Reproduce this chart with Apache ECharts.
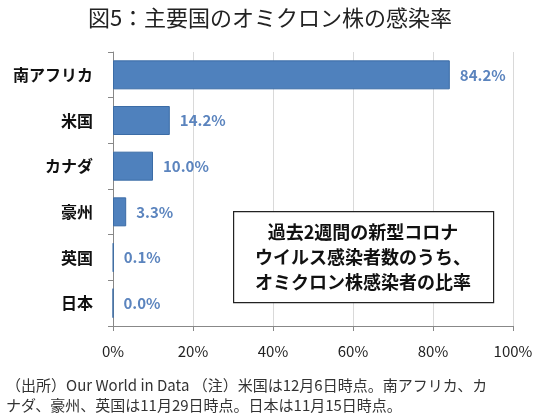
<!DOCTYPE html>
<html>
<head>
<meta charset="utf-8">
<script src="https://cdn.jsdelivr.net/npm/echarts@6/dist/echarts.min.js"></script>
<style>
html, body { margin: 0; padding: 0; background: #fff; }
#chart { width: 540px; height: 418px; }
</style>
</head>
<body>
<div id="chart"></div>
<script>
var countries = ['南アフリカ', '米国', 'カナダ', '豪州', '英国', '日本'];
var shares = [84.2, 14.2, 10.0, 3.3, 0.1, 0.0];
var xTicks = [0, 20, 40, 60, 80, 100];
var noteLines = ['過去2週間の新型コロナ', 'ウイルス感染者数のうち、', 'オミクロン株感染者の比率'];
var sourceLines = [
    '（出所）Our World in Data （注）米国は12月6日時点。南アフリカ、カ',
    'ナダ、豪州、英国は11月29日時点。日本は11月15日時点。'
];

var FONT = '"Noto Sans CJK JP", "Noto Sans", sans-serif';

function init(){
    var myChart = echarts.init(document.getElementById('chart'));
    myChart.setOption(chartOption());
}

function chartOption(){
    var graphics = [];
    // note box
    graphics.push({
        type: 'rect',
        left: 233, top: 211,
        shape: { width: 260, height: 91 },
        style: { fill: '#fff', stroke: '#222', lineWidth: 1.2 },
        z: 10
    });
    noteLines.forEach(function(t, i){
        graphics.push({
            type: 'text',
            x: 363, y: 232 + i * 25,
            style: {
                text: t, fill: '#111', font: 'bold 18px ' + FONT,
                textAlign: 'center', textVerticalAlign: 'middle'
            },
            z: 11
        });
    });
    sourceLines.forEach(function(t, i){
        graphics.push({
            type: 'text',
            x: 6, y: 385 + i * 20,
            style: {
                text: t, fill: '#333', font: '15px ' + FONT,
                textAlign: 'left', textVerticalAlign: 'middle'
            }
        });
    });

    return {
        animation: false,
        backgroundColor: '#fff',
        title: {
            text: '図5：主要国のオミクロン株の感染率',
            left: 'center',
            top: 2,
            textStyle: { fontFamily: FONT, fontSize: 22, fontWeight: 'normal', color: '#222' }
        },
        grid: { left: 113, right: 27, top: 52, bottom: 92 },
        xAxis: {
            type: 'value',
            min: 0, max: 100, interval: 20,
            axisLine: { show: true, lineStyle: { color: '#888' } },
            axisTick: { show: true, length: 5, lineStyle: { color: '#888' } },
            splitLine: { show: true, lineStyle: { color: '#d9d9d9' } },
            axisLabel: {
                margin: 18,
                formatter: function(v){ return xTicks.indexOf(v) >= 0 ? v + '%' : ''; },
                fontFamily: FONT, fontSize: 15, color: '#222'
            }
        },
        yAxis: {
            type: 'category',
            data: countries,
            inverse: true,
            axisLine: { show: true, lineStyle: { color: '#888' } },
            axisTick: { show: true, length: 5, lineStyle: { color: '#888' } },
            axisLabel: {
                margin: 20,
                fontFamily: FONT, fontSize: 16, fontWeight: 'bold', color: '#111'
            }
        },
        series: [{
            type: 'bar',
            data: shares,
            barWidth: 29,
            itemStyle: { color: '#4F81BD', borderColor: '#3B6CA6', borderWidth: 1 },
            label: {
                show: true,
                position: 'right',
                distance: 10,
                formatter: function(p){ return p.value.toFixed(1) + '%'; },
                fontFamily: FONT, fontSize: 15, fontWeight: 'bold', color: '#5B84BE'
            }
        }],
        graphic: graphics
    };
}

init();
</script>
</body>
</html>
